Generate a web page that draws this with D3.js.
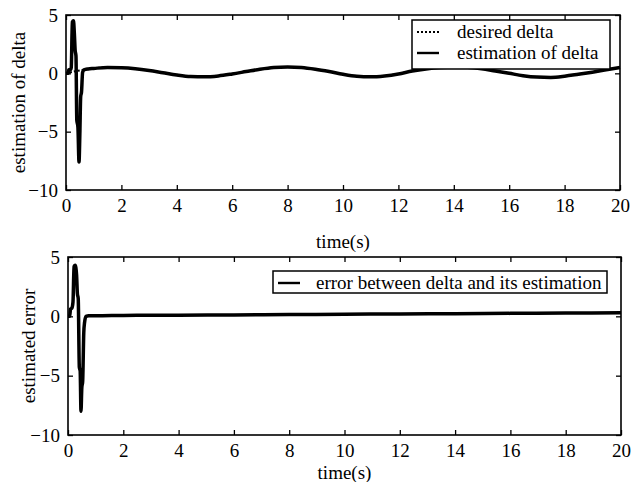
<!DOCTYPE html>
<html>
<head>
<meta charset="utf-8">
<script src="https://cdn.jsdelivr.net/npm/d3@7"></script>
<style>
  body { margin: 0; background: #fff; }
  svg { display: block; }
  text { font-family: "Liberation Serif", "Times New Roman", serif; fill: #000; }
</style>
</head>
<body>
<svg id="chart"></svg>
<script>
// tick values shared by both panels
const xTicks = [0, 2, 4, 6, 8, 10, 12, 14, 16, 18, 20];
const yTicks = [-10, -5, 0, 5];

const desiredTime = [0, 0.5, 1, 1.5, 2, 2.5, 3, 3.5, 4, 4.5, 5, 5.5, 6, 6.5, 7, 7.5, 8, 8.5, 9, 9.5, 10,
    10.5, 11, 11.5, 12, 12.5, 13, 13.5, 14, 14.5, 15, 15.5, 16, 16.5, 17, 17.5, 18, 18.5, 19, 19.5, 20];
const desiredDelta = [0, 0.25, 0.42, 0.5, 0.48, 0.4, 0.25, 0.05, -0.15, -0.28, -0.3, -0.22, -0.05, 0.15, 0.35, 0.5, 0.55,
    0.5, 0.35, 0.15, -0.08, -0.25, -0.3, -0.22, -0.05, 0.2, 0.38, 0.5, 0.55, 0.52, 0.4, 0.2, 0.0, -0.2, -0.32,
    -0.35, -0.25, -0.08, 0.1, 0.3, 0.5];

// estimation of delta during the start-up transient (t < 1 s)
const estTransientTime = [0, 0.08, 0.1, 0.16, 0.19, 0.23, 0.27, 0.3, 0.33, 0.36, 0.39, 0.43, 0.47, 0.5, 0.53, 0.56, 0.6, 0.65, 0.8];
const estTransientValue = [0, 0, 0.3, 0.3, 0.5, 4.4, 4.5, 3.5, 2.0, 1.5, -4.0, -4.6, -7.6, -5.2, -2.0, -1.6, 0.1, 0.3, 0.38];

// error between delta and its estimation
const errorTime = [0, 0.06, 0.09, 0.14, 0.18, 0.22, 0.26, 0.31, 0.34, 0.37, 0.41, 0.44, 0.47, 0.5, 0.53, 0.57, 0.6, 0.65,
    0.75, 1, 2, 4, 6, 8, 10, 12, 14, 16, 18, 20];
const errorValue = [0, 0, 0.6, 0.7, 1.2, 4.2, 4.3, 3.5, 1.9, 1.5, -4.3, -4.6, -8.0, -6.0, -5.5, -1.4, -0.5, 0,
    0.05, 0.05, 0.08, 0.1, 0.12, 0.15, 0.18, 0.2, 0.22, 0.25, 0.28, 0.3];

const toPoints = (ts, vs) => ts.map((t, i) => ({t: t, v: vs[i]}));

const desiredPts = toPoints(desiredTime, desiredDelta);
const estimationPts = toPoints(estTransientTime, estTransientValue)
    .concat(desiredPts.filter(d => d.t >= 1));
const errorPts = toPoints(errorTime, errorValue);

const svg = d3.select('#chart')
    .attr('width', 635)
    .attr('height', 482);

svg.append('rect').attr('width', 635).attr('height', 482).attr('fill', '#fff');

function drawPanel(cfg) {
    const x = d3.scaleLinear().domain([0, 20]).range([cfg.left, cfg.right]);
    const y = d3.scaleLinear().domain([-10, 5]).range([cfg.bottom, cfg.top]);
    const g = svg.append('g');

    const line = d3.line()
        .x(d => x(d.t))
        .y(d => y(d.v))
        .curve(d3.curveMonotoneX);

    cfg.series.forEach(s => {
        g.append('path')
            .datum(s.data)
            .attr('fill', 'none')
            .attr('stroke', '#000')
            .attr('stroke-width', s.width)
            .attr('stroke-dasharray', s.dash || null)
            .attr('stroke-linejoin', 'round')
            .attr('d', line);
    });

    // inward ticks on all four sides
    const styleAxis = sel => {
        sel.select('.domain').remove();
        sel.selectAll('.tick line').attr('stroke', '#000').attr('stroke-width', 1.3);
        sel.selectAll('.tick text').style('font-size', '19px').attr('font-family', null);
    };

    g.append('g')
        .attr('transform', `translate(0, ${cfg.bottom})`)
        .call(d3.axisBottom(x).tickValues(xTicks).tickSizeInner(-5).tickSizeOuter(0).tickPadding(9))
        .call(styleAxis);
    g.append('g')
        .attr('transform', `translate(0, ${cfg.top})`)
        .call(d3.axisTop(x).tickValues(xTicks).tickSizeInner(-5).tickSizeOuter(0).tickFormat(''))
        .call(styleAxis);
    g.append('g')
        .attr('transform', `translate(${cfg.left}, 0)`)
        .call(d3.axisLeft(y).tickValues(yTicks).tickSizeInner(-5).tickSizeOuter(0).tickPadding(8))
        .call(styleAxis);
    g.append('g')
        .attr('transform', `translate(${cfg.right}, 0)`)
        .call(d3.axisRight(y).tickValues(yTicks).tickSizeInner(-5).tickSizeOuter(0).tickFormat(''))
        .call(styleAxis);

    g.append('rect')
        .attr('x', cfg.left).attr('y', cfg.top)
        .attr('width', cfg.right - cfg.left).attr('height', cfg.bottom - cfg.top)
        .attr('fill', 'none').attr('stroke', '#000').attr('stroke-width', 1.6);

    // x axis label
    g.append('text')
        .attr('x', (cfg.left + cfg.right) / 2)
        .attr('y', cfg.xLabelY)
        .style('text-anchor', 'middle')
        .style('font-size', '19px')
        .text('time(s)');

    // y axis label
    g.append('text')
        .attr('transform', `translate(${cfg.yLabelX}, ${(cfg.top + cfg.bottom) / 2}) rotate(-90)`)
        .style('text-anchor', 'middle')
        .style('font-size', '19px')
        .text(cfg.yLabel);

    // legend
    const lg = cfg.legend;
    g.append('rect')
        .attr('x', lg.x).attr('y', lg.y)
        .attr('width', lg.w).attr('height', lg.h)
        .attr('fill', '#fff').attr('stroke', '#000').attr('stroke-width', 1.5);
    lg.items.forEach((it, i) => {
        const cy = lg.y + 12 + i * 21;
        g.append('line')
            .attr('x1', lg.x + 5).attr('x2', lg.x + 27)
            .attr('y1', cy).attr('y2', cy)
            .attr('stroke', '#000')
            .attr('stroke-width', it.dash ? 2.2 : 2.4)
            .attr('stroke-dasharray', it.dash || null);
        g.append('text')
            .attr('x', lg.x + 36 + (lg.textShift || 0))
            .attr('y', cy + 6)
            .style('font-size', '19px')
            .text(it.label);
    });
}

drawPanel({
    left: 66, right: 620, top: 15, bottom: 190,
    xLabelY: 248, yLabelX: 25,
    yLabel: 'estimation of delta',
    series: [
        {data: desiredPts, width: 2, dash: '2,2'},
        {data: estimationPts, width: 3.5}
    ],
    legend: {
        x: 412, y: 20, w: 198, h: 49, textShift: 9,
        items: [
            {label: 'desired delta', dash: '2,2'},
            {label: 'estimation of delta'}
        ]
    }
});

drawPanel({
    left: 68, right: 621, top: 257, bottom: 435,
    xLabelY: 479, yLabelX: 35,
    yLabel: 'estimated error',
    series: [
        {data: errorPts, width: 3.5}
    ],
    legend: {
        x: 273, y: 271, w: 334, h: 22, textShift: 7,
        items: [
            {label: 'error between delta and its estimation'}
        ]
    }
});
</script>
</body>
</html>
